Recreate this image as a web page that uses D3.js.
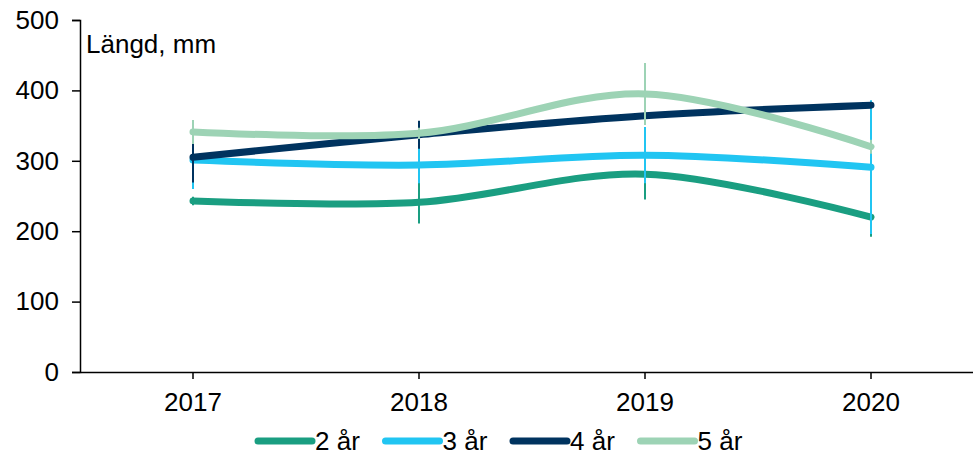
<!DOCTYPE html>
<html>
<head>
<meta charset="utf-8">
<script src="https://cdn.jsdelivr.net/npm/d3@7"></script>
<style>
  body { margin: 0; background: #fff; }
  text { font-family: "Liberation Sans", Arial, sans-serif; fill: #000; }
</style>
</head>
<body>
<div class="chart"></div>
<script>
const width = 973;
const height = 455;

const years = ["2017", "2018", "2019", "2020"];
const seriesNames = ["2 år", "3 år", "4 år", "5 år"];
const colors = ["#1a9e81", "#21c5f2", "#00335f", "#9dd3b5"];

// mean length per year (mm)
const len2 = [243, 241, 281, 220];
const len3 = [301, 294, 308, 291];
const len4 = [305, 337, 364, 379];
const len5 = [341, 339, 395, 320];

// error bar half-widths (mm)
const err2 = [6, 30, 36, 28];
const err3 = [41, 26, 40, 95];
const err4 = [36, 20, 11, 4];
const err5 = [17, 8, 44, 10];

const yTicks = [0, 100, 200, 300, 400, 500];

const series = [
    {name: seriesNames[0], values: len2, errs: err2, color: colors[0]},
    {name: seriesNames[1], values: len3, errs: err3, color: colors[1]},
    {name: seriesNames[2], values: len4, errs: err4, color: colors[2]},
    {name: seriesNames[3], values: len5, errs: err5, color: colors[3]},
]

const svg = d3.select('.chart')
    .append('svg')
    .attr('width', width)
    .attr('height', height)

const x = d3.scaleBand()
    .domain(years)
    .range([80, 984])

const y = d3.scaleLinear()
    .domain([0, 500])
    .range([372, 20])

const xc = d => x(d) + x.bandwidth() / 2

// y axis
const yAxis = svg.append('g')
    .attr('transform', 'translate(80,0)')
    .call(d3.axisLeft(y).tickValues(yTicks).tickSize(8).tickPadding(13))
yAxis.select('.domain').attr('stroke', '#000').attr('stroke-width', 1.5)
yAxis.selectAll('line').attr('stroke', '#000').attr('stroke-width', 1.5)
yAxis.selectAll('text').attr('font-size', 26).attr('fill', '#000')

// x axis
const xAxis = svg.append('g')
    .attr('transform', 'translate(0,372)')
    .call(d3.axisBottom(x).tickSize(7).tickSizeOuter(0).tickPadding(14))
xAxis.select('.domain').attr('stroke', '#000').attr('stroke-width', 1.5)
xAxis.selectAll('line').attr('stroke', '#000').attr('stroke-width', 1.5)
xAxis.selectAll('text').attr('font-size', 26).attr('fill', '#000')

svg.append('text')
    .attr('x', 86)
    .attr('y', 53)
    .attr('font-size', 26)
    .text('Längd, mm')

const line = d3.line()
    .x((d, i) => xc(years[i]))
    .y(d => y(d))
    .curve(d3.curveCardinal.tension(0))

series.forEach(s => {
    const g = svg.append('g')
    g.selectAll('line.err')
        .data(s.values)
        .enter()
        .append('line')
        .attr('class', 'err')
        .attr('x1', (d, i) => xc(years[i]))
        .attr('x2', (d, i) => xc(years[i]))
        .attr('y1', (d, i) => y(d + s.errs[i]))
        .attr('y2', (d, i) => y(d - s.errs[i]))
        .attr('stroke', s.color)
        .attr('stroke-width', 2)

    g.append('path')
        .datum(s.values)
        .attr('d', line)
        .attr('fill', 'none')
        .attr('stroke', s.color)
        .attr('stroke-width', 7)
        .attr('stroke-linecap', 'round')
        .attr('stroke-linejoin', 'round')
})

// legend
const legend = svg.selectAll('g.legend')
    .data(series)
    .enter()
    .append('g')
    .attr('class', 'legend')
    .attr('transform', (d, i) => `translate(${258 + i * 127.5},441)`)

legend.append('line')
    .attr('x1', 0)
    .attr('x2', 54)
    .attr('stroke', d => d.color)
    .attr('stroke-width', 7)
    .attr('stroke-linecap', 'round')

legend.append('text')
    .attr('x', 57)
    .attr('y', 9)
    .attr('font-size', 26)
    .text(d => d.name)
</script>
</body>
</html>
